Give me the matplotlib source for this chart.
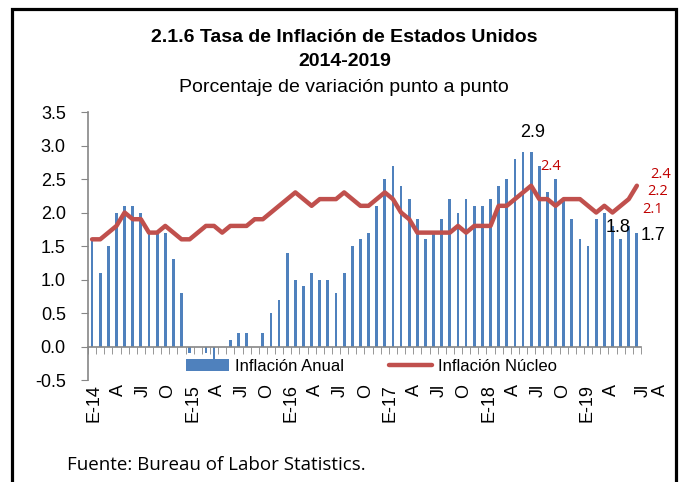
import matplotlib
matplotlib.use("Agg")
import matplotlib.pyplot as plt
from matplotlib.patches import Rectangle
from matplotlib.transforms import ScaledTranslation
import numpy as np

plt.rcParams['font.family'] = ['Liberation Sans', 'DejaVu Sans']
plt.rcParams['axes.unicode_minus'] = False

# inflacion anual (IPC total) y nucleo, ene-2014 a ago-2019
anual = [1.6, 1.1, 1.5, 2.0, 2.1, 2.1, 2.0, 1.7, 1.7, 1.7, 1.3, 0.8,
         -0.1, 0.0, -0.1, -0.2, 0.0, 0.1, 0.2, 0.2, 0.0, 0.2, 0.5, 0.7,
         1.4, 1.0, 0.9, 1.1, 1.0, 1.0, 0.8, 1.1, 1.5, 1.6, 1.7, 2.1,
         2.5, 2.7, 2.4, 2.2, 1.9, 1.6, 1.7, 1.9, 2.2, 2.0, 2.2, 2.1,
         2.1, 2.2, 2.4, 2.5, 2.8, 2.9, 2.9, 2.7, 2.3, 2.5, 2.2, 1.9,
         1.6, 1.5, 1.9, 2.0, 1.8, 1.6, 1.8, 1.7]
nucleo = [1.6, 1.6, 1.7, 1.8, 2.0, 1.9, 1.9, 1.7, 1.7, 1.8, 1.7, 1.6,
          1.6, 1.7, 1.8, 1.8, 1.7, 1.8, 1.8, 1.8, 1.9, 1.9, 2.0, 2.1,
          2.2, 2.3, 2.2, 2.1, 2.2, 2.2, 2.2, 2.3, 2.2, 2.1, 2.1, 2.2,
          2.3, 2.2, 2.0, 1.9, 1.7, 1.7, 1.7, 1.7, 1.7, 1.8, 1.7, 1.8,
          1.8, 1.8, 2.1, 2.1, 2.2, 2.3, 2.4, 2.2, 2.2, 2.1, 2.2, 2.2,
          2.2, 2.1, 2.0, 2.1, 2.0, 2.1, 2.2, 2.4]

tick_pos = [0, 3, 6, 9, 12, 15, 18, 21, 24, 27, 30, 33, 36, 39, 42, 45,
            48, 51, 54, 57, 60, 63, 66, 67]
tick_lab = ['E-14', 'A', 'Jl', 'O', 'E-15', 'A', 'Jl', 'O', 'E-16', 'A', 'Jl', 'O',
            'E-17', 'A', 'Jl', 'O', 'E-18', 'A', 'Jl', 'O', 'E-19', 'A', 'Jl', 'A']

x = np.arange(len(anual))
gray = '#868686'

fig = plt.figure(figsize=(6.86, 4.82), dpi=100)
ax = fig.add_axes([0.1283, 0.2116, 0.806, 0.556])

bars = ax.bar(x, anual, width=0.34, color='#4F81BD', label='Inflación Anual', zorder=2)
line, = ax.plot(x, nucleo, color='#C0504D', lw=3.2, label='Inflación Núcleo', zorder=3,
                solid_joinstyle='round', solid_capstyle='round')

ax.set_xlim(-0.5, len(anual) - 0.5)
ax.set_ylim(-0.5, 3.5)
ax.set_yticks(np.arange(-0.5, 3.51, 0.5))
ax.set_yticklabels([f'{v:.1f}' for v in np.arange(-0.5, 3.51, 0.5)])

for s in ['top', 'right']:
    ax.spines[s].set_visible(False)
ax.spines['bottom'].set_position(('data', 0))
ax.spines['bottom'].set_color(gray)
ax.spines['left'].set_color(gray)
ax.spines['bottom'].set_linewidth(1.2)
ax.spines['left'].set_linewidth(1.2)

ax.set_xticks(tick_pos)
ax.set_xticklabels(tick_lab, rotation=90, va='top', ha='center')
ax.set_xticks(np.arange(-0.5, len(anual), 1.0), minor=True)
ax.tick_params(axis='x', which='major', length=0, pad=27, labelsize=13)
ax.tick_params(axis='x', which='minor', length=5, color=gray, direction='out')
ax.tick_params(axis='y', length=5, color=gray, pad=11, labelsize=13)

# Excel reparte las etiquetas un poco mas anchas que las barras
labs = ax.get_xticklabels()
for i, lab in enumerate(labs):
    dx = 2 + 6 * i / (len(labs) - 1)
    if i == len(labs) - 2:
        dx = 14
    if i == len(labs) - 1:
        dx = 24
    lab.set_transform(lab.get_transform() + ScaledTranslation(dx / 100, 0, fig.dpi_scale_trans))

ax.legend([bars, line], ['Inflación Anual', 'Inflación Núcleo'],
          loc='center', bbox_to_anchor=(0.513, 0.05), ncol=2, frameon=False,
          fontsize=12, handlelength=2.6, handleheight=0.7, columnspacing=2.7,
          handletextpad=0.35, borderpad=0)

# etiquetas de datos
red = '#C00000'
ax.text(54.2, 3.19, '2.9', fontsize=13, ha='center', va='center')
ax.text(55.1, 2.68, '2.4', fontsize=10.5, color=red, ha='left', va='center',
        family=['Open Sans', 'DejaVu Sans'])
ax.text(64.7, 1.77, '1.8', fontsize=13, ha='center', va='center')
ax.text(69.0, 1.65, '1.7', fontsize=13, ha='center', va='center')
ax.text(69.9, 2.56, '2.4', fontsize=10.5, color=red, ha='center', va='center',
        family=['Open Sans', 'DejaVu Sans'])
ax.text(69.6, 2.31, '2.2', fontsize=10.5, color=red, ha='center', va='center',
        family=['Open Sans', 'DejaVu Sans'])
ax.text(68.9, 2.05, '2.1', fontsize=10.5, color=red, ha='center', va='center',
        family=['Open Sans', 'DejaVu Sans'])

fig.text(0.502, 1 - 38 / 482, '2.1.6 Tasa de Inflación de Estados Unidos',
         fontsize=14, fontweight='bold', ha='center', va='center')
fig.text(0.502, 1 - 62 / 482, '2014-2019', fontsize=14, fontweight='bold',
         ha='center', va='center')
fig.text(0.502, 1 - 87 / 482, 'Porcentaje de variación punto a punto',
         fontsize=14, ha='center', va='center')
fig.text(67 / 686, 1 - 465 / 482, 'Fuente: Bureau of Labor Statistics.',
         fontsize=13.5, ha='left', va='center', family=['Open Sans', 'DejaVu Sans'])

# marco exterior
fig.patches.append(Rectangle((12 / 686, -0.05), 664 / 686, 1.05 - 9 / 482,
                             transform=fig.transFigure, fill=False,
                             edgecolor='black', lw=2.3, zorder=10))

fig.savefig('out.png', dpi=100)
